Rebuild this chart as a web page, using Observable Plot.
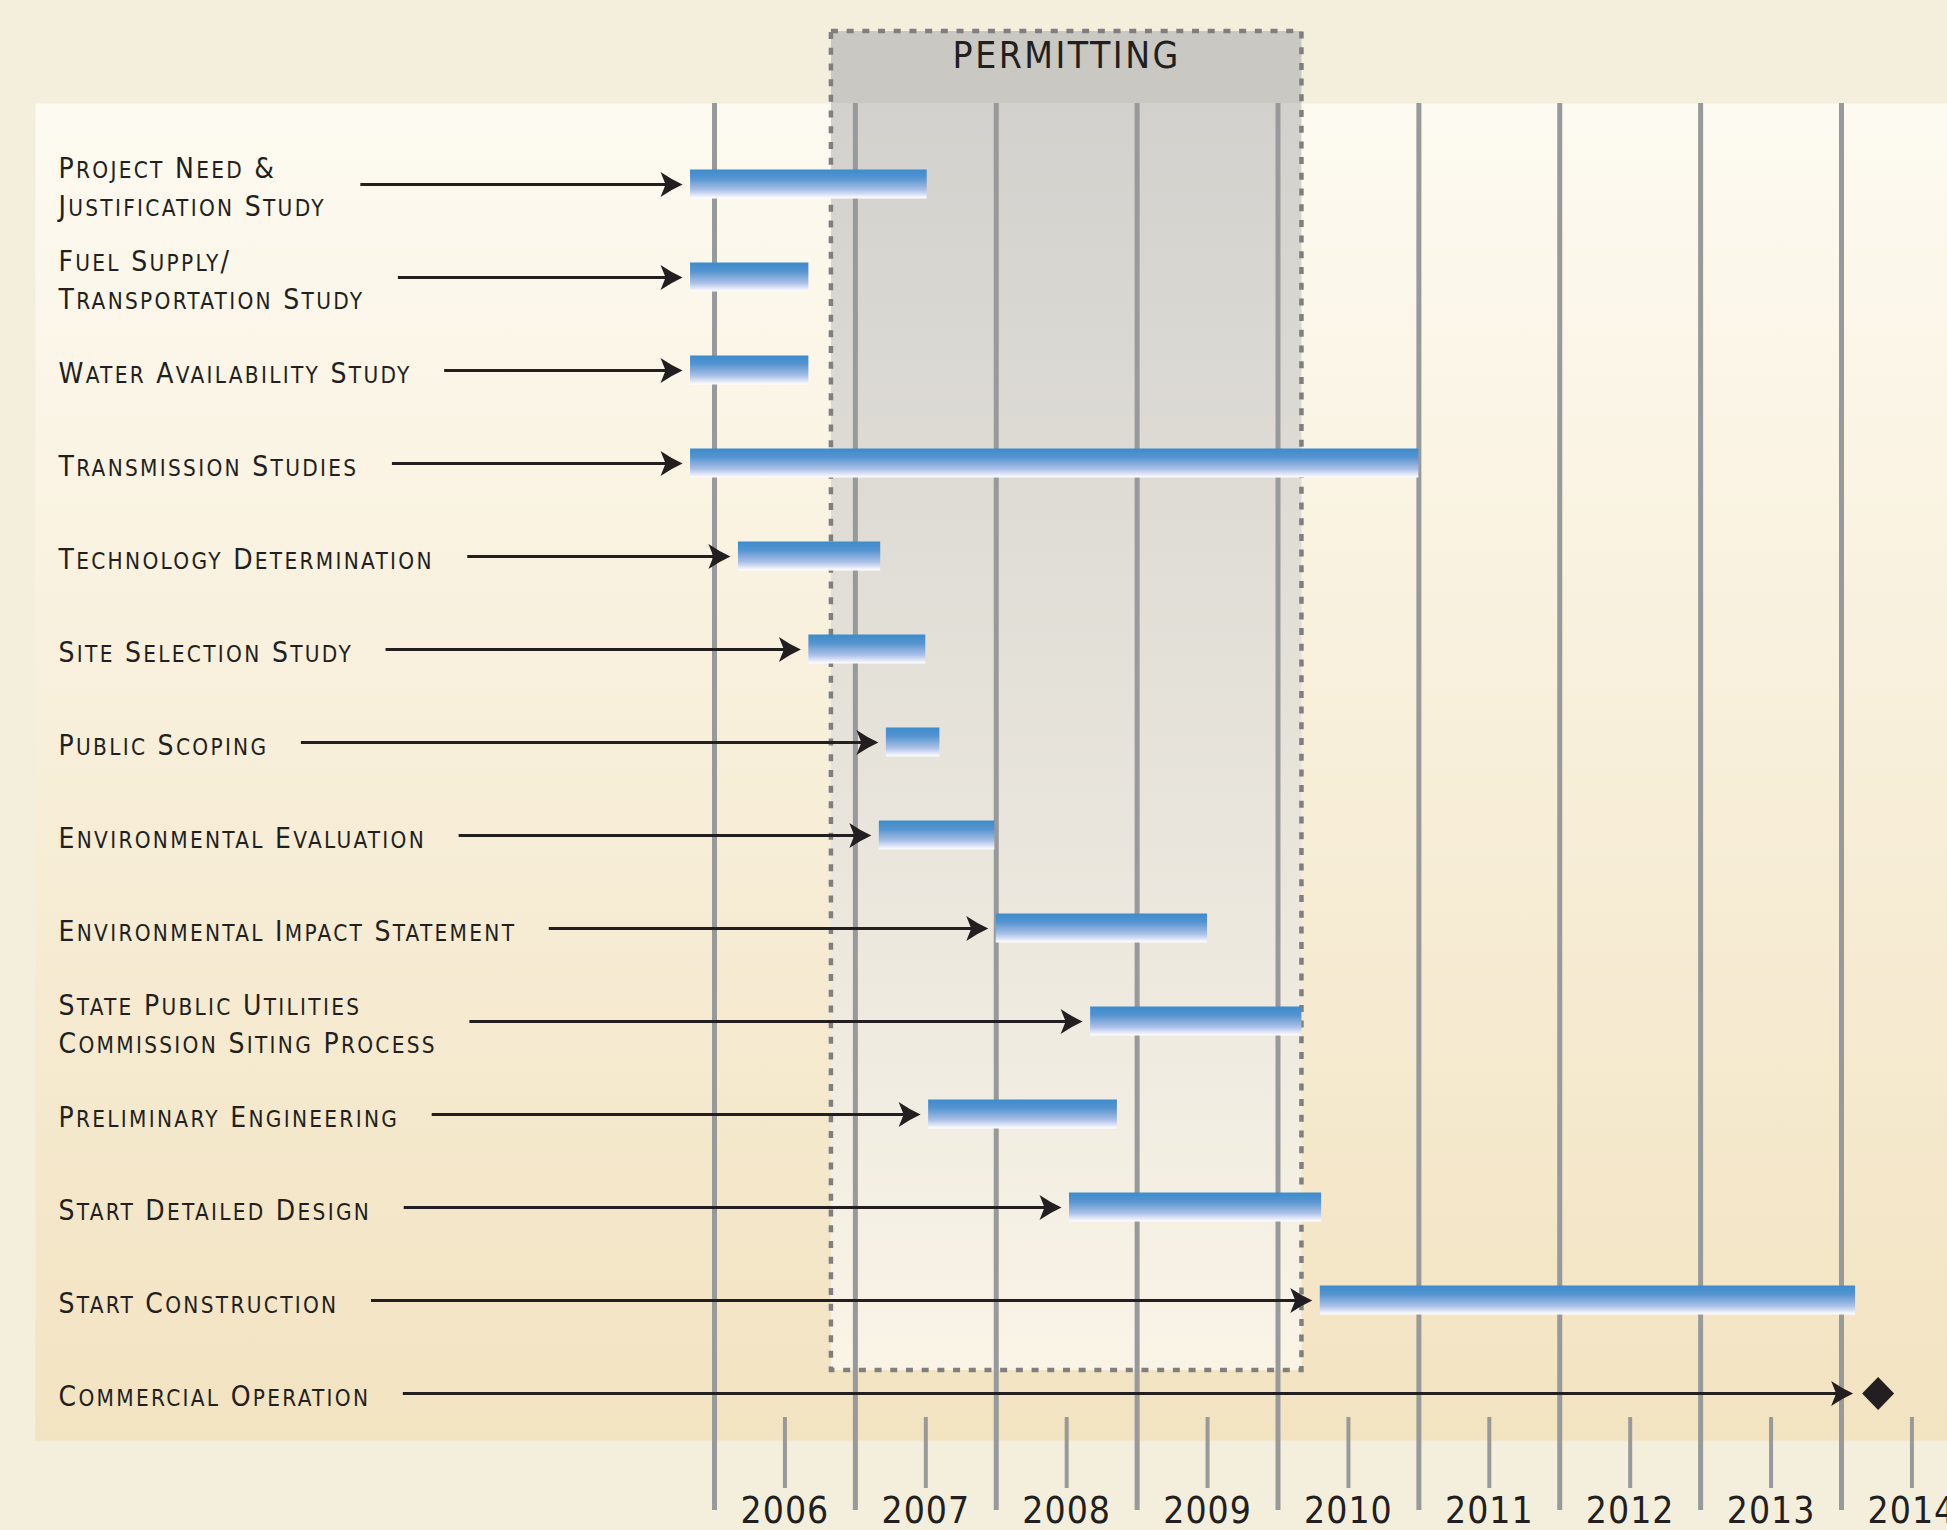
<!DOCTYPE html>
<html>
<head>
<meta charset="utf-8">
<script src="https://cdn.jsdelivr.net/npm/d3@7"></script>
<script src="https://cdn.jsdelivr.net/npm/@observablehq/plot@0.6"></script>
<style>
  html, body { margin: 0; padding: 0; background: #f4eedc; overflow: hidden; }
  #chart svg { display: block; }
</style>
</head>
<body>
<div id="chart"></div>
<script>
// ---------------- DATA ----------------
const tasks = [
  "Project Need &\nJustification Study",
  "Fuel Supply/\nTransportation Study",
  "Water Availability Study",
  "Transmission Studies",
  "Technology Determination",
  "Site Selection Study",
  "Public Scoping",
  "Environmental Evaluation",
  "Environmental Impact Statement",
  "State Public Utilities\nCommission Siting Process",
  "Preliminary Engineering",
  "Start Detailed Design",
  "Start Construction",
  "Commercial Operation"
];
const starts = [2005.83, 2005.83, 2005.83, 2005.83, 2006.17, 2006.67, 2007.22, 2007.17, 2008.0, 2008.67, 2007.52, 2008.52, 2010.30, 2014.26];
const ends   = [2007.51, 2006.67, 2006.67, 2011.0, 2007.18, 2007.5, 2007.6, 2007.99, 2009.5, 2010.17, 2008.86, 2010.31, 2014.10, null];
const kinds  = ["bar","bar","bar","bar","bar","bar","bar","bar","bar","bar","bar","bar","bar","milestone"];
const years = [2006, 2007, 2008, 2009, 2010, 2011, 2012, 2013, 2014];
const yearLabels = ["2006", "2007", "2008", "2009", "2010", "2011", "2012", "2013", "2014"];
const permitLabel = "PERMITTING";
const permitStart = 2006.83;
const permitEnd = 2010.17;

// ---------------- LAYOUT / STYLE ----------------
const W = 1947, H = 1530;
const M = {left: 35, right: 0, top: 103, bottom: 113};
const xOpts = {domain: [2006, 2014], range: [714, 1841]};
const yOpts = {domain: [0, 13], range: [184, 1393]};
const FONT = "'DejaVu Sans Condensed', 'DejaVu Sans', sans-serif";
const INK = "#231f20";
const LABEL_SIZE = 28, LABEL_LS = 2.3, SMALL = 0.8, LABEL_DX = 23, ARROW_GAP = 33;

function applySmallCaps(node, str) {
  node.textContent = "";
  const runs = [];
  for (const ch of str) {
    const small = ch !== ch.toUpperCase();
    const c = small ? ch.toUpperCase() : ch;
    if (runs.length && runs[runs.length - 1].small === small) runs[runs.length - 1].t += c;
    else runs.push({small, t: c});
  }
  for (const r of runs) {
    const ts = document.createElementNS("http://www.w3.org/2000/svg", "tspan");
    if (r.small) ts.setAttribute("font-size", SMALL * LABEL_SIZE);
    ts.textContent = r.t;
    node.appendChild(ts);
  }
}

// measure label widths
const tmp = d3.select("body").append("svg")
  .attr("width", 10).attr("height", 10)
  .style("position", "absolute").style("left", "0").style("top", "0").style("visibility", "hidden");
function measure(line) {
  const t = tmp.append("text")
    .attr("font-family", FONT).attr("font-size", LABEL_SIZE)
    .style("letter-spacing", LABEL_LS + "px");
  applySmallCaps(t.node(), line);
  const w = t.node().getBBox().width;
  t.remove();
  return w;
}

const xs = Plot.scale({x: xOpts});
const rows = tasks.map((task, i) => {
  const lines = task.split("\n");
  const w = d3.max(lines, measure);
  const targetPx = xs.apply(starts[i]) - (kinds[i] === "bar" ? 8 : 25);
  return {
    task, row: i, start: starts[i], end: ends[i], kind: kinds[i],
    arrowStart: xs.invert(M.left + LABEL_DX + w + ARROW_GAP),
    tip: xs.invert(targetPx),
    shaftEnd: xs.invert(targetPx - 14)
  };
});
tmp.remove();
const bars = rows.filter(d => d.kind === "bar");
const milestones = rows.filter(d => d.kind === "milestone");
const permit = [{label: permitLabel, start: permitStart, end: permitEnd}];
const yearMids = years.map(y => y + 0.5);

const arrowHead = {
  draw(ctx) {
    ctx.moveTo(0, 0);
    ctx.quadraticCurveTo(-11, -5, -22, -12.5);
    ctx.lineTo(-17, 0);
    ctx.lineTo(-22, 12.5);
    ctx.quadraticCurveTo(-11, 5, 0, 0);
    ctx.closePath();
  }
};
const diamond = {
  draw(ctx) {
    ctx.moveTo(0, -16.5);
    ctx.lineTo(16, 0);
    ctx.lineTo(0, 16.5);
    ctx.lineTo(-16, 0);
    ctx.closePath();
  }
};

const chart = Plot.plot({
  width: W, height: H,
  marginLeft: M.left, marginRight: M.right, marginTop: M.top, marginBottom: M.bottom,
  style: {background: "#f4eedc", fontFamily: FONT},
  x: xOpts,
  y: {...yOpts, axis: null},
  marks: [
    Plot.frame({fill: "url(#panelGrad)", stroke: "none", insetBottom: -23}),
    Plot.rect(permit, {x1: "start", x2: "end", fill: "url(#permitGrad)", insetTop: -72, insetBottom: 47}),
    Plot.ruleX(years, {stroke: "#98999b", strokeWidth: 5, insetBottom: -93}),
    Plot.axisX(yearMids, {
      tickSize: 71, tickPadding: 8,
      tickFormat: d => yearLabels[years.indexOf(Math.floor(d))],
      stroke: "#98999b", strokeWidth: 4, fill: INK,
      fontSize: 37, fontFamily: FONT
    }),
    Plot.rect(permit, {x1: "start", x2: "end", fill: "none", stroke: "#7f7f7f", strokeWidth: 4.5,
      strokeDasharray: "7 8.7", insetTop: -72, insetBottom: 47}),
    Plot.text(permit, {x: d => (d.start + d.end) / 2, text: "label", frameAnchor: "top", lineAnchor: "middle",
      dy: -47, fontSize: 37, fontFamily: FONT, fill: INK}),
    Plot.ruleY(rows, {y: "row", x1: "arrowStart", x2: "shaftEnd", stroke: INK, strokeWidth: 3}),
    Plot.rect(bars, {x1: "start", x2: "end", y1: d => d.row - 0.5, y2: d => d.row + 0.5,
      insetTop: 32, insetBottom: 32, fill: "url(#barGrad)"}),
    Plot.dot(rows, {x: "tip", y: "row", symbol: arrowHead, fill: INK, stroke: "none"}),
    Plot.dot(milestones, {x: "start", y: "row", symbol: diamond, fill: INK, stroke: "none"}),
    Plot.text(rows, {y: "row", text: "task", frameAnchor: "left", dx: LABEL_DX, textAnchor: "start",
      lineAnchor: "middle", lineHeight: 1.375, fontSize: LABEL_SIZE, fontFamily: FONT, fill: INK})
  ]
});

// gradients
const svg = d3.select(chart);
const defs = svg.insert("defs", ":first-child");
function grad(id, stops) {
  const g = defs.append("linearGradient").attr("id", id)
    .attr("x1", 0).attr("y1", 0).attr("x2", 0).attr("y2", 1);
  for (const [o, c] of stops) g.append("stop").attr("offset", o).attr("stop-color", c);
}
grad("panelGrad", [[0, "#fdfaf1"], [1, "#f2e3c1"]]);
grad("permitGrad", [[0, "#c9c8c3"], [0.0538, "#c9c8c3"], [0.0538, "#d2d1cd"], [1, "#faf4e7"]]);
grad("barGrad", [[0, "#3d8bcc"], [0.3, "#5594d0"], [0.7, "#a9bfe6"], [0.93, "#eef0fc"], [1, "#ffffff"]]);

// text styling: small caps task labels, tracking on year labels and the permitting title
const taskByKey = new Map(rows.map(d => [d.task.replace("\n", ""), d]));
svg.selectAll("text").each(function() {
  const key = this.textContent;
  if (taskByKey.has(key)) {
    const lines = taskByKey.get(key).task.split("\n");
    this.style.letterSpacing = LABEL_LS + "px";
    const tspans = this.querySelectorAll("tspan");
    if (tspans.length) tspans.forEach((t, j) => applySmallCaps(t, lines[j]));
    else applySmallCaps(this, lines[0]);
  } else if (yearLabels.includes(key)) {
    this.style.letterSpacing = "1px";
  } else if (key === permitLabel) {
    this.style.letterSpacing = "2.5px";
  }
});

document.getElementById("chart").appendChild(chart);
</script>
</body>
</html>
